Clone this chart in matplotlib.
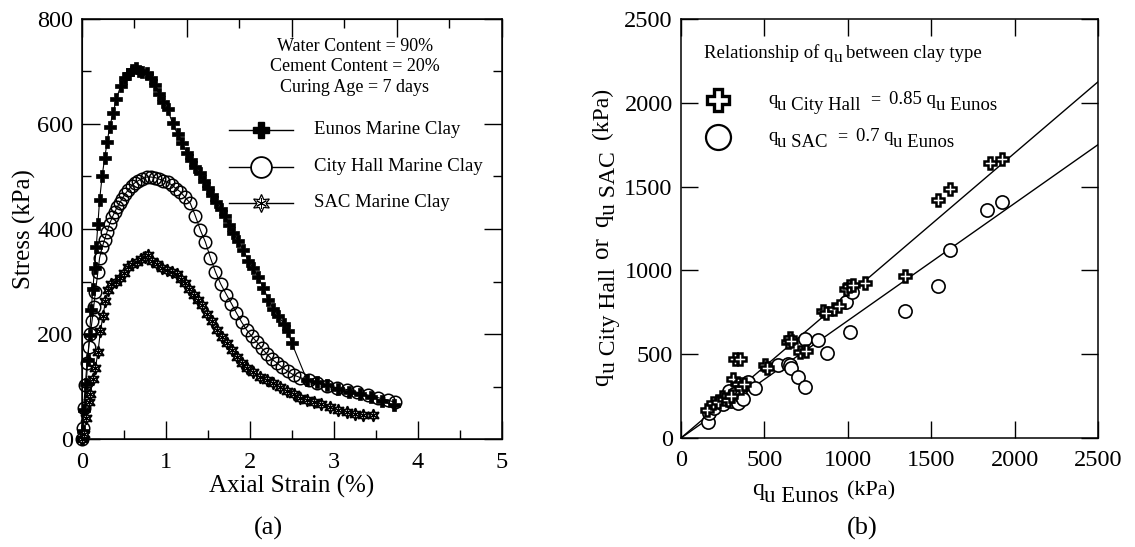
import matplotlib
matplotlib.use("Agg")
import matplotlib.pyplot as plt
from matplotlib.ticker import MultipleLocator
from matplotlib.transforms import IdentityTransform

plt.rcParams['font.family'] = ['Liberation Serif', 'DejaVu Serif']

# (a) stress-strain curves
eunos_strain = [0, 0.01, 0.03, 0.05, 0.07, 0.09, 0.11, 0.13, 0.15, 0.17, 0.19, 0.21, 0.24,
                0.27, 0.30, 0.33, 0.37, 0.41, 0.46, 0.51, 0.55, 0.60, 0.64, 0.68, 0.72, 0.77,
                0.82, 0.87, 0.92, 0.97, 1.02, 1.08, 1.14, 1.19, 1.25, 1.30, 1.35, 1.40, 1.45,
                1.50, 1.55, 1.60, 1.65, 1.70, 1.75, 1.80, 1.86, 1.92, 1.98, 2.04, 2.10, 2.16,
                2.22, 2.28, 2.34, 2.40, 2.45, 2.50, 2.68, 2.80, 2.92, 3.05, 3.18, 3.31, 3.44,
                3.57, 3.71]
eunos_stress = [0, 15, 55, 105, 150, 198, 245, 285, 325, 365, 410, 455, 500,
                535, 565, 595, 620, 648, 672, 688, 695, 702, 706, 700, 699, 697,
                688, 675, 658, 642, 628, 601, 580, 563, 545, 532, 518, 506, 492,
                478, 465, 452, 438, 424, 407, 393, 377, 360, 340, 325, 308, 288,
                265, 248, 235, 220, 205, 182, 112, 108, 102, 95, 90, 86, 80,
                73, 64]

cityhall_strain = [0, 0.01, 0.02, 0.04, 0.06, 0.08, 0.10, 0.12, 0.14, 0.16, 0.19, 0.21, 0.24,
                   0.27, 0.30, 0.33, 0.36, 0.39, 0.42, 0.45, 0.48, 0.51, 0.55, 0.59, 0.63,
                   0.67, 0.72, 0.77, 0.82, 0.87, 0.92, 0.97, 1.02, 1.07, 1.12, 1.17, 1.23,
                   1.29, 1.35, 1.41, 1.47, 1.53, 1.59, 1.65, 1.72, 1.78, 1.84, 1.90, 1.96,
                   2.02, 2.08, 2.14, 2.20, 2.26, 2.32, 2.38, 2.45, 2.52, 2.60, 2.70, 2.80,
                   2.92, 3.04, 3.16, 3.28, 3.40, 3.52, 3.64, 3.73]
cityhall_stress = [0, 21, 59, 103, 145, 175, 200, 225, 251, 280, 318, 345, 365,
                   380, 395, 410, 422, 432, 442, 450, 458, 466, 474, 482, 488,
                   492, 496, 499, 499, 498, 495, 492, 489, 484, 477, 471, 460,
                   449, 425, 398, 375, 345, 318, 296, 275, 258, 240, 223, 208,
                   196, 185, 173, 162, 152, 145, 137, 129, 122, 117, 112, 107,
                   101, 98, 94, 89, 84, 79, 74, 70]

sac_strain = [0, 0.02, 0.05, 0.08, 0.10, 0.13, 0.16, 0.19, 0.22, 0.25, 0.28, 0.31, 0.35,
              0.40, 0.45, 0.50, 0.55, 0.60, 0.65, 0.70, 0.75, 0.79, 0.84, 0.89, 0.95, 1.01,
              1.07, 1.13, 1.18, 1.23, 1.28, 1.33, 1.38, 1.43, 1.49, 1.55, 1.61, 1.67, 1.73,
              1.79, 1.85, 1.91, 1.97, 2.04, 2.12, 2.20, 2.28, 2.36, 2.44, 2.52, 2.60, 2.68,
              2.76, 2.85, 2.95, 3.05, 3.15, 3.25, 3.35, 3.47]
sac_stress = [0, 10, 40, 70, 85, 115, 135, 165, 205, 235, 262, 284, 295,
              300, 307, 317, 328, 333, 337, 342, 347, 350, 340, 333, 325, 321,
              318, 315, 305, 297, 285, 275, 265, 255, 238, 225, 208, 195, 183,
              170, 156, 145, 135, 128, 118, 112, 107, 100, 92, 85, 78, 74,
              70, 66, 61, 56, 51, 48, 46, 46]

# (b) qu comparison
ch_eunos = [155, 192, 245, 220, 260, 280, 300, 310, 324, 355, 340, 360, 380, 504, 515,
            640, 653, 660, 713, 750, 850, 870, 920, 950, 990, 1010, 1031, 1103,
            1343, 1541, 1613, 1852, 1922]
ch_qu = [167, 208, 246, 215, 235, 225, 250, 350, 469, 469, 320, 300, 320, 435, 420,
         575, 595, 580, 514, 520, 760, 745, 770, 790, 890, 905, 912, 924,
         966, 1418, 1488, 1638, 1667]
sac_eunos = [162, 165, 200, 250, 300, 290, 320, 340, 360, 370, 402, 444,
             582, 640, 653, 660, 701, 743, 743, 821, 873,
             990, 1023, 1013, 1340, 1541, 1613, 1833, 1922]
sac_qu = [97, 150, 180, 200, 220, 280, 260, 210, 250, 230, 336, 298,
          435, 440, 435, 420, 365, 306, 590, 584, 506,
          810, 872, 634, 760, 906, 1120, 1359, 1408]
ratio_ch = 0.85
ratio_sac = 0.7
fit_x = [0, 2500]


def rich_text(fig, x, y, pieces, vertical=False, center=False):
    """Write text pieces one after another; each piece is (text, size, drop_px, gap_px).
    x, y are pixel positions measured from the top-left of the image."""
    r = fig.canvas.get_renderer()
    H = fig.bbox.height
    items = []
    total = 0.0
    for s, size, drop, gap in pieces:
        total += gap
        t = fig.text(0, 0, s, fontsize=size, rotation=90 if vertical else 0,
                     rotation_mode='anchor', ha='left', va='baseline',
                     transform=IdentityTransform())
        bb = t.get_window_extent(r)
        items.append((t, total, drop))
        total += bb.height if vertical else bb.width
    start = -total / 2 if center else 0.0
    for t, off, drop in items:
        if vertical:
            t.set_position((x + drop, H - y + start + off))
        else:
            t.set_position((x + start + off, H - y - drop))


fig = plt.figure(figsize=(11.35, 5.47), dpi=100)
ax1 = fig.add_axes([0.0722, 0.1974, 0.3700, 0.7679])
ax2 = fig.add_axes([0.6000, 0.1993, 0.3674, 0.7660])

lw = 0.8
ax1.plot(eunos_strain, eunos_stress, color='black', lw=lw, marker='P', ms=8,
         mfc='black', mec='black', mew=0.5, clip_on=False, zorder=3)
ax1.plot(cityhall_strain, cityhall_stress, color='black', lw=lw, marker='o', ms=9,
         mfc='none', mec='black', mew=1.1, clip_on=False, zorder=3)
ax1.plot(sac_strain, sac_stress, color='black', lw=lw, marker=(6, 1, 0), ms=9,
         mfc='white', mec='black', mew=1.2, clip_on=False, zorder=3)
ax1.plot(sac_strain, sac_stress, ls='none', marker=(6, 2, 0), ms=6,
         mec='black', mew=0.8, clip_on=False, zorder=3)

ax1.set_xlim(0, 5)
ax1.set_ylim(0, 800)
ax1.xaxis.set_major_locator(MultipleLocator(1))
ax1.xaxis.set_minor_locator(MultipleLocator(0.5))
ax1.yaxis.set_major_locator(MultipleLocator(200))
ax1.yaxis.set_minor_locator(MultipleLocator(100))
ax1.tick_params(which='both', direction='in', bottom=True, top=False, left=True, right=True,
                labelsize=17.5, width=1.0)
ax1.tick_params(which='major', length=13)
ax1.tick_params(which='minor', length=6.5)
ax1.tick_params(axis='x', pad=9)
ax1.tick_params(axis='y', pad=6)
ax1.set_xlabel('Axial Strain (%)', fontsize=18, labelpad=2)
ax1.set_ylabel('Stress (kPa)', fontsize=18, labelpad=1)
for s in ax1.spines.values():
    s.set_linewidth(1.1)

top1 = ax1.twiny()
top1.set_xlim(0, 8)
top1.xaxis.set_major_locator(MultipleLocator(2))
top1.xaxis.set_minor_locator(MultipleLocator(1))
top1.tick_params(which='both', direction='in', top=True, labeltop=False, width=1.0)
top1.tick_params(which='major', length=13)
top1.tick_params(which='minor', length=6.5)

ax1.text(0.65, 0.886, 'Water Content = 90%\nCement Content = 20%\nCuring Age = 7 days',
         transform=ax1.transAxes, ha='center', va='center', fontsize=13, linespacing=1.25)

legend_rows = [('Eunos Marine Clay', 0.736, dict(marker='P', ms=12, mfc='black', mec='black')),
               ('City Hall Marine Clay', 0.648, dict(marker='o', ms=15, mfc='white', mec='black', mew=1.3)),
               ('SAC Marine Clay', 0.562, dict(marker=(6, 1, 0), ms=13, mfc='white', mec='black', mew=0.9))]
for label, yy, style in legend_rows:
    ax1.plot([0.35, 0.502], [yy, yy], color='black', lw=1.0, transform=ax1.transAxes,
             clip_on=False)
    ax1.plot([0.426], [yy], transform=ax1.transAxes, clip_on=False, ls='none', **style)
    ax1.text(0.552, yy, label, transform=ax1.transAxes, ha='left', va='center', fontsize=13.5)
ax1.plot([0.426], [0.562], transform=ax1.transAxes, clip_on=False, ls='none',
         marker=(6, 2, 0), ms=8, mec='black', mew=0.7)

# (b)
ax2.plot(fit_x, [ratio_ch * v for v in fit_x], color='black', lw=1.0)
ax2.plot(fit_x, [ratio_sac * v for v in fit_x], color='black', lw=1.0)
ax2.plot(sac_eunos, sac_qu, ls='none', marker='o', ms=9.5, mfc='white', mec='black', mew=1.2)
ax2.plot(ch_eunos, ch_qu, ls='none', marker='P', ms=8.5, mfc='white', mec='black', mew=1.8)
ax2.set_xlim(0, 2500)
ax2.set_ylim(0, 2500)
ax2.xaxis.set_major_locator(MultipleLocator(500))
ax2.yaxis.set_major_locator(MultipleLocator(500))
ax2.tick_params(direction='in', top=True, right=True, length=12, width=1.0, labelsize=17.5)
ax2.tick_params(axis='x', pad=9)
ax2.tick_params(axis='y', pad=6)
for s in ax2.spines.values():
    s.set_linewidth(1.1)

ax2.plot([0.089], [0.806], transform=ax2.transAxes, ls='none', marker='P', ms=16,
         mfc='white', mec='black', mew=2.4, clip_on=False)
ax2.plot([0.089], [0.7175], transform=ax2.transAxes, ls='none', marker='o', ms=18,
         mfc='white', mec='black', mew=1.6, clip_on=False)

rich_text(fig, 704, 58, [('Relationship of q', 13.5, 0, 0), ('u', 12.5, 4, 0),
                         ('between clay type', 13.5, 0, 4)])
rich_text(fig, 768, 104, [('q', 13.5, 0, 0), ('u City Hall', 13.5, 6, 0), ('=', 13, 0, 9),
                          ('0.85 q', 13.5, 0, 9), ('u Eunos', 13.5, 6, 0)])
rich_text(fig, 768, 141, [('q', 13.5, 0, 0), ('u SAC', 13.5, 6, 0), ('=', 13, 0, 9),
                          ('0.7 q', 13.5, 0, 9), ('u Eunos', 13.5, 6, 0)])

rich_text(fig, 608, 237, [('q', 18, 0, 0), ('u City Hall', 17, 7, 0), ('or', 18, 0, 10),
                          ('q', 18, 0, 10), ('u SAC', 17, 7, 0), ('(kPa)', 17, 0, 12)],
          vertical=True, center=True)
rich_text(fig, 752, 495, [('q', 17, 0, 0), ('u Eunos', 16.5, 7, 0), ('(kPa)', 16, 0, 8)])

fig.text(268 / 1135, 1 - 528 / 547, '(a)', ha='center', va='center', fontsize=19)
fig.text(862 / 1135, 1 - 528 / 547, '(b)', ha='center', va='center', fontsize=19)

fig.savefig('out.png', dpi=100)
